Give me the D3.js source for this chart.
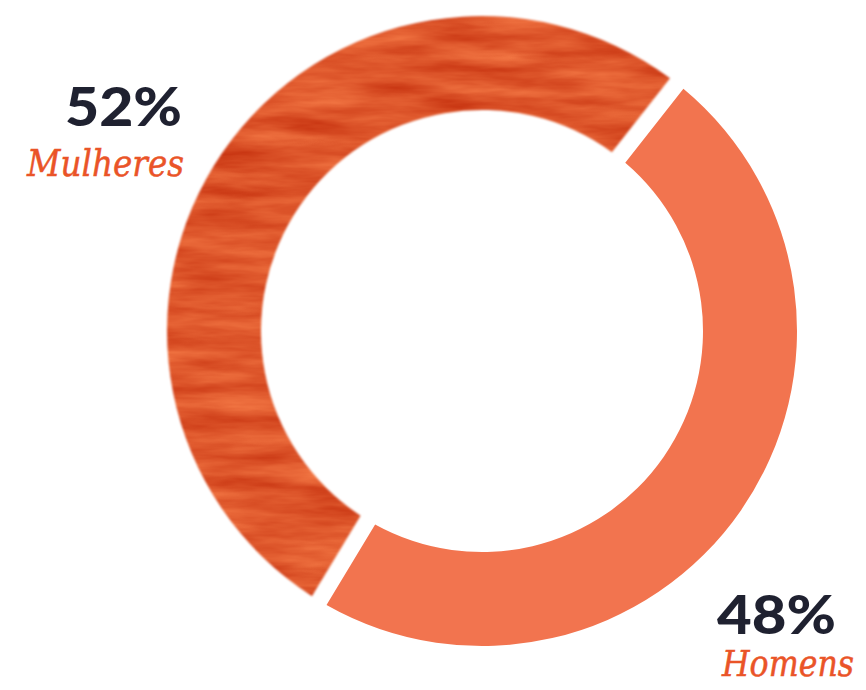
<!DOCTYPE html>
<html>
<head>
<meta charset="utf-8">
<script src="https://cdn.jsdelivr.net/npm/d3@7"></script>
<style>
  html, body { margin: 0; padding: 0; background: #ffffff; }
  svg { display: block; }
</style>
</head>
<body>
<svg id="chart" width="866" height="690"></svg>
<script>
// Share of people by gender
const labels = ["Homens", "Mulheres"];
const shares = [48, 52];
const shareText = ["48%", "52%"];

const width = 866, height = 690;
const cx = 482, cy = 331;
const outerR = 315, innerR = 221;

const svg = d3.select("#chart");
const defs = svg.append("defs");

// Brushed, painted texture for the women's slice
const grain = defs.append("filter")
  .attr("id", "grain")
  .attr("color-interpolation-filters", "sRGB")
  .attr("x", "-2%").attr("y", "-2%")
  .attr("width", "104%").attr("height", "104%");
grain.append("feTurbulence")
  .attr("type", "fractalNoise")
  .attr("baseFrequency", "0.01 0.06")
  .attr("numOctaves", 4)
  .attr("seed", 7)
  .attr("result", "noise");
grain.append("feColorMatrix")
  .attr("in", "noise")
  .attr("type", "matrix")
  .attr("values",
    "0.22 0 0 0 0.76 " +
    "0.34 0 0 0 0.17 " +
    "0.26 0 0 0 0.04 " +
    "0 0 0 0 1")
  .attr("result", "tint");
grain.append("feGaussianBlur")
  .attr("in", "SourceGraphic")
  .attr("stdDeviation", 0.9)
  .attr("result", "soft");
grain.append("feComposite")
  .attr("in", "tint")
  .attr("in2", "soft")
  .attr("operator", "in");

const colors = d3.scaleOrdinal()
  .domain(labels)
  .range(["#F2744F", "#E05630"]);

const pie = d3.pie()
  .sort(null)
  .value(d => d)
  .startAngle(38.2 * Math.PI / 180)
  .endAngle(38.2 * Math.PI / 180 + 2 * Math.PI)
  .padAngle(17 / outerR);

const arc = d3.arc()
  .innerRadius(innerR)
  .outerRadius(outerR)
  .padRadius(outerR);

const arcs = pie(shares);

const g = svg.append("g").attr("transform", `translate(${cx},${cy})`);

g.selectAll("path")
  .data(arcs)
  .join("path")
  .attr("d", arc)
  .attr("fill", (d, i) => colors(labels[i]))
  .attr("filter", (d, i) => i === 1 ? "url(#grain)" : null);

// Labels: percentage above, name below
const numFont = "Lato, 'Noto Sans', sans-serif";
const nameFont = "'DejaVu Serif', 'Liberation Serif', serif";

const labelPos = [
  { x: 836, y: 634, nameY: 676, nameSize: 35, numW: 119, nameW: 132, nameX: 854 },
  { x: 182, y: 126, nameY: 176, nameSize: 37, numW: 117, nameW: 157, nameX: 184 }
];

labels.forEach((name, i) => {
  const p = labelPos[i];
  svg.append("text")
    .attr("x", p.x).attr("y", p.y)
    .attr("text-anchor", "end")
    .attr("font-family", numFont)
    .attr("font-weight", 900)
    .attr("font-size", 53)
    .attr("fill", "#1F2130")
    .attr("textLength", p.numW)
    .attr("lengthAdjust", "spacingAndGlyphs")
    .text(shareText[i]);
  svg.append("text")
    .attr("x", p.nameX).attr("y", p.nameY)
    .attr("text-anchor", "end")
    .attr("font-family", nameFont)
    .attr("font-style", "italic")
    .attr("font-size", p.nameSize)
    .attr("fill", "#EA5428")
    .attr("stroke", "#EA5428")
    .attr("stroke-width", 0.5)
    .attr("textLength", p.nameW)
    .attr("lengthAdjust", "spacingAndGlyphs")
    .text(name);
});
</script>
</body>
</html>
